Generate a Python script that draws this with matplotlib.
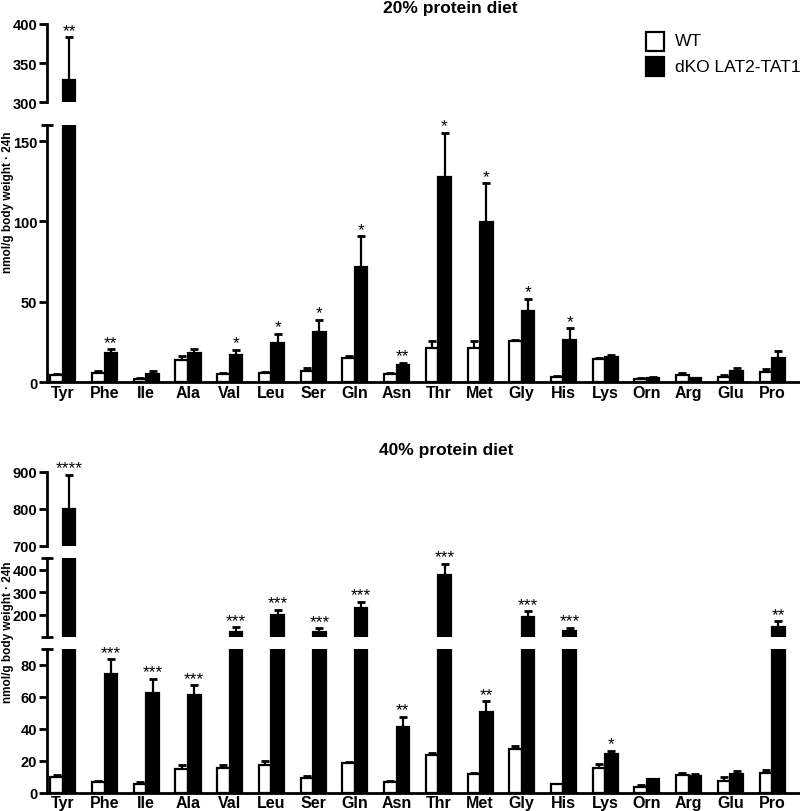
import numpy as np
import matplotlib
matplotlib.use("Agg")
import matplotlib.pyplot as plt

plt.rcParams['font.family'] = ['Liberation Sans', 'DejaVu Sans']

amino = ["Tyr", "Phe", "Ile", "Ala", "Val", "Leu", "Ser", "Gln", "Asn",
         "Thr", "Met", "Gly", "His", "Lys", "Orn", "Arg", "Glu", "Pro"]

# 20% protein diet
wt20 = [4.5, 6, 2.3, 13.8, 5.4, 5.8, 7.1, 15.2, 5.4,
        21.3, 21.3, 25.4, 3.3, 14.4, 2.3, 4.6, 3.5, 6.5]
wt20_err = [0.5, 0.8, 0.5, 2.7, 0.5, 0.8, 1.7, 1.3, 0.5,
            4.5, 4.5, 1.0, 0.5, 1.0, 0.3, 1.0, 1.0, 1.5]
ko20 = [329, 18, 5.4, 18, 16.9, 24.2, 31, 72, 10.8,
        127.5, 99.4, 44.6, 26.2, 16, 2.9, 2.5, 6.9, 14.8]
ko20_err = [54, 2.6, 1.5, 2.6, 3.3, 6, 8, 18.8, 1.5,
            27.5, 24.4, 7.3, 7.5, 1.0, 0.3, 0.3, 2.0, 4.4]
sig20 = ["**", "**", "", "", "*", "*", "*", "*", "**",
         "*", "*", "*", "*", "", "", "", "", ""]

# 40% protein diet
wt40 = [9.4, 6.6, 5.6, 14.6, 15.6, 17.3, 8.9, 18.5, 6.6,
        23.5, 11.4, 27, 5.2, 15.4, 3.7, 10.8, 7.3, 11.9]
wt40_err = [1.4, 0.7, 0.8, 2.5, 1.7, 2.5, 1.5, 0.8, 0.7,
            1.4, 0.6, 2.1, 0.4, 2.3, 0.8, 1.7, 2.1, 2.1]
ko40 = [800, 74, 61.9, 61, 125, 199, 122, 230, 41,
        377, 50.4, 191, 127, 24, 8.3, 10.4, 11.4, 144]
ko40_err = [92, 9.3, 9, 6, 19, 23, 18, 28, 6.5,
            48, 6.5, 24, 16, 2, 0.3, 1.0, 2.1, 27]
sig40 = ["****", "***", "***", "***", "***", "***", "***", "***", "**",
         "***", "**", "***", "***", "*", "", "", "", "**"]

W, H = 800, 812
x = np.arange(len(amino))
bw = 0.3


def box(top_px, bottom_px):
    return [47 / W, 1 - bottom_px / H, 1 - 47 / W, (bottom_px - top_px) / H]


def draw_panel(fig, segs, wt, wte, ko, koe, sig):
    # segs: list of (top_px, bottom_px, ylim, ticks), lowest segment last
    axes = []
    for i, (top, bot, ylim, ticks) in enumerate(segs):
        ax = fig.add_axes(box(top, bot))
        ax.bar(x - bw / 2, wt, bw, color="white", edgecolor="black", linewidth=1.6, zorder=2)
        ax.bar(x + bw / 2, ko, bw, color="black", edgecolor="black", linewidth=1.6, zorder=2)
        ax.errorbar(x - bw / 2, wt, yerr=[np.zeros(len(wt)), wte], fmt="none",
                    ecolor="black", elinewidth=1.6, capsize=3, capthick=2, zorder=1)
        ax.errorbar(x + bw / 2, ko, yerr=[np.zeros(len(ko)), koe], fmt="none",
                    ecolor="black", elinewidth=1.6, capsize=3, capthick=2, zorder=1)
        ax.set_ylim(*ylim)
        ax.set_xlim(-0.38, 17.67)
        ax.set_yticks(ticks)
        ends = [v for v in ylim if v not in ticks]
        ax.set_yticks(ends, minor=True)
        ax.tick_params(axis="y", which="major", length=6, width=2, pad=1, labelsize=10.5)
        ax.tick_params(axis="y", which="minor", direction="inout", length=8, width=2)
        for lab in ax.get_yticklabels():
            lab.set_fontweight("bold")
        for s in ["top", "right"]:
            ax.spines[s].set_visible(False)
        ax.spines["left"].set_linewidth(2)
        last = i == len(segs) - 1
        if last:
            ax.spines["bottom"].set_linewidth(2)
            ax.set_xticks(x)
            ax.set_xticklabels(amino, fontweight="bold", fontsize=11.5)
            ax.tick_params(axis="x", length=0, pad=2)
        else:
            ax.spines["bottom"].set_visible(False)
            ax.set_xticks([])
        ax.patch.set_alpha(0)
        axes.append((ax, ylim))

    # significance stars in the segment holding the error cap
    for j, s in enumerate(sig):
        if not s:
            continue
        cap = ko[j] + koe[j]
        for ax, ylim in axes:
            if ylim[0] <= cap <= ylim[1] + 1e-9:
                ax.annotate(s, (x[j] + bw / 2, cap), xytext=(0, 5),
                            textcoords="offset points", ha="center", va="center",
                            fontsize=12.5, annotation_clip=False)
                break


fig = plt.figure(figsize=(W / 100, H / 100), dpi=100)

draw_panel(fig,
           [(25, 103.3, (300, 400), [300, 350, 400]),
            (126, 383.3, (0, 160), [0, 50, 100, 150])],
           wt20, wt20_err, ko20, ko20_err, sig20)

draw_panel(fig,
           [(472.7, 546.5, (700, 900), [700, 800, 900]),
            (559.3, 638.3, (100, 450), [200, 300, 400]),
            (649.5, 793.5, (0, 90), [0, 20, 40, 60, 80])],
           wt40, wt40_err, ko40, ko40_err, sig40)

fig.text(450 / W, 1 - 9 / H, "20% protein diet", ha="center", va="center",
         fontsize=12.5, fontweight="bold")
fig.text(446 / W, 1 - 450 / H, "40% protein diet", ha="center", va="center",
         fontsize=12.5, fontweight="bold")
fig.text(8 / W, 1 - 202 / H, "nmol/g body weight \u00b7 24h", rotation=90,
         ha="center", va="center", fontsize=8.5, fontweight="bold")
fig.text(8 / W, 1 - 632 / H, "nmol/g body weight \u00b7 24h", rotation=90,
         ha="center", va="center", fontsize=8.5, fontweight="bold")

# legend drawn as boxes + text
fig.patches.append(plt.Rectangle((646 / W, 1 - 52 / H), 18 / W, 19 / H, transform=fig.transFigure,
                                 facecolor="white", edgecolor="black", linewidth=1.6))
fig.patches.append(plt.Rectangle((646 / W, 1 - 77 / H), 18 / W, 19 / H, transform=fig.transFigure,
                                 facecolor="black", edgecolor="black", linewidth=1.6))
fig.text(675 / W, 1 - 42 / H, "WT", ha="left", va="center", fontsize=12.5)
fig.text(675 / W, 1 - 68 / H, "dKO LAT2-TAT1", ha="left", va="center", fontsize=12.5)

fig.savefig("out.png", dpi=100)
